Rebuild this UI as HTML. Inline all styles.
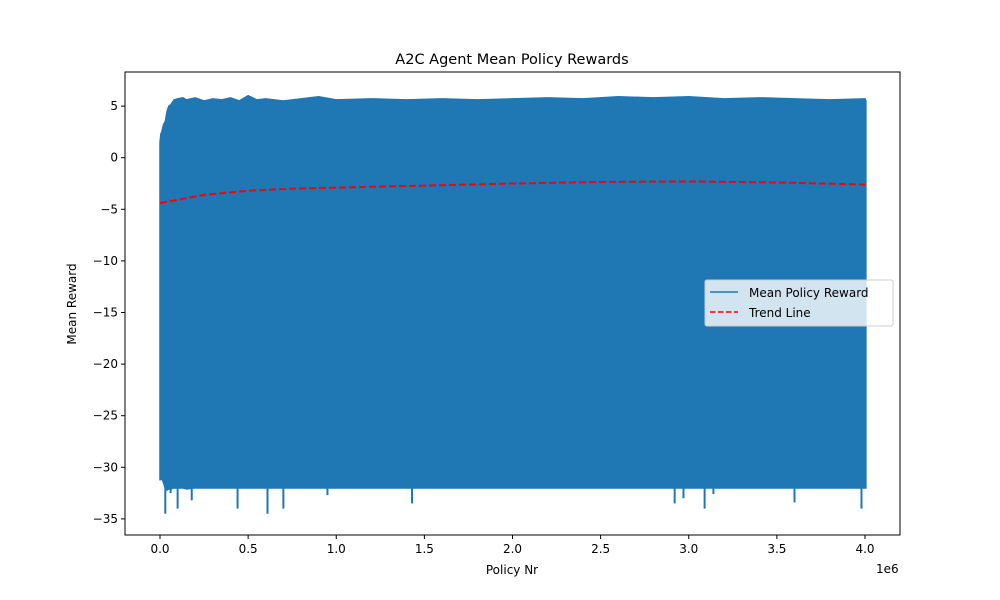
<!DOCTYPE html>
<html><head><meta charset="utf-8"><style>
body{margin:0;background:#fff;}
svg{display:block;font-family:"DejaVu Sans","Liberation Sans",sans-serif;}
</style></head><body>
<svg id="chart" width="1000" height="600">
<rect width="1000" height="600" fill="#fff"/>
<g id="plot"></g>
<g id="axes"></g>
</svg>
<script>
const xTicks=[0,0.5,1.0,1.5,2.0,2.5,3.0,3.5,4.0];
const xTickLabels=["0.0","0.5","1.0","1.5","2.0","2.5","3.0","3.5","4.0"];
const yTicks=[5,0,-5,-10,-15,-20,-25,-30,-35];
const yTickLabels=["5","0","−5","−10","−15","−20","−25","−30","−35"];
// envelope of the noisy reward series (x in 1e6)
const envX=[0,0.005,0.01,0.02,0.03,0.04,0.05,0.06,0.08,0.1,0.13,0.15,0.2,0.25,0.3,0.35,0.4,0.45,0.5,0.55,0.6,0.7,0.8,0.9,1.0,1.2,1.4,1.6,1.8,2.0,2.2,2.4,2.6,2.8,3.0,3.2,3.4,3.6,3.8,4.0,4.005];
const envTop=[1.5,2.3,2.5,3.2,3.5,4.5,5.0,5.1,5.6,5.7,5.8,5.6,5.8,5.5,5.7,5.6,5.8,5.5,6.0,5.6,5.7,5.5,5.7,5.9,5.6,5.7,5.6,5.7,5.6,5.7,5.8,5.7,5.9,5.8,5.9,5.7,5.8,5.7,5.6,5.7,5.5];
const envBottom=[-31.2,-31.2,-31.0,-31.5,-32.0,-32.2,-32.1,-32.1,-32.0,-32.0,-32.0,-32.1,-32.0,-32.0,-32.0,-32.0,-32.0,-32.0,-32.0,-32.0,-32.0,-32.0,-32.0,-32.0,-32.0,-32.0,-32.0,-32.0,-32.0,-32.0,-32.0,-32.0,-32.0,-32.0,-32.0,-32.0,-32.0,-32.0,-32.0,-32.0,-32.0];
const spikeX=[0.03,0.06,0.1,0.18,0.44,0.61,0.7,0.95,1.43,2.92,2.97,3.09,3.14,3.6,3.98];
const spikeY=[-34.5,-32.5,-34.0,-33.2,-34.0,-34.5,-34.0,-32.7,-33.5,-33.5,-33.0,-34.0,-32.6,-33.4,-34.0];
const trendX=[0,0.25,0.5,0.75,1.0,1.5,2.0,2.5,3.0,3.5,4.0];
const trendY=[-4.4,-3.6,-3.2,-3.0,-2.9,-2.7,-2.5,-2.35,-2.3,-2.4,-2.6];

const L=125,R=900,T=72,B=535;
const xs=v=>160+v*176.25;
const ys=v=>157.7-v*10.32;
const NS="http://www.w3.org/2000/svg";
function mk(tag,attrs,parent){const e=document.createElementNS(NS,tag);for(const k in attrs)e.setAttribute(k,attrs[k]);parent.appendChild(e);return e;}
const plot=document.getElementById('plot'),axes=document.getElementById('axes');

let pts=envX.map((x,i)=>xs(x)+","+ys(envTop[i]));
for(let i=envX.length-1;i>=0;i--)pts.push(xs(envX[i])+","+ys(envBottom[i]));
const poly=mk('polygon',{points:pts.join(" "),fill:"#1f77b4",stroke:"#1f77b4","stroke-width":1.5},plot);


spikeX.forEach((x,i)=>{
 const s=mk('line',{x1:xs(x),x2:xs(x),y1:ys(-31.8),y2:ys(spikeY[i]),stroke:"#1f77b4","stroke-width":2},plot);
 
 
});
const tr=mk('polyline',{points:trendX.map((x,i)=>xs(x)+","+ys(trendY[i])).join(" "),fill:"none",stroke:"#ff0000","stroke-width":2,"stroke-dasharray":"7,3"},plot);



const frame=mk('rect',{x:L,y:T,width:R-L,height:B-T,fill:"none",stroke:"#000","stroke-width":1},axes);


xTicks.forEach((v,i)=>{
 const x=xs(v);
 const t=mk('line',{x1:x,x2:x,y1:B,y2:B+4,stroke:"#000"},axes);
 
 
 const l=mk('text',{x:x,y:B+18,"text-anchor":"middle","font-size":12},axes);l.textContent=xTickLabels[i];
 
 
});
yTicks.forEach((v,i)=>{
 const y=ys(v);
 const t=mk('line',{x1:L-4,x2:L,y1:y,y2:y,stroke:"#000"},axes);
 
 
 const l=mk('text',{x:L-7,y:y+4,"text-anchor":"end","font-size":12},axes);l.textContent=yTickLabels[i];
 
 
});
</script>
<svg style="position:absolute;left:0;top:0" width="1000" height="600">
<text x="512" y="64" text-anchor="middle" font-size="14.5" font-family="DejaVu Sans,sans-serif">A2C Agent Mean Policy Rewards</text>
<text x="512" y="574" text-anchor="middle" font-size="12" font-family="DejaVu Sans,sans-serif">Policy Nr</text>
<text x="876" y="573" font-size="12" font-family="DejaVu Sans,sans-serif">1e6</text>
<text transform="translate(76,304) rotate(-90)" text-anchor="middle" font-size="12" font-family="DejaVu Sans,sans-serif">Mean Reward</text>
<g>
<rect x="705" y="280" width="188" height="46" rx="2" fill="#fff" fill-opacity="0.8" stroke="#ccc"/>
<line x1="710" x2="738" y1="292" y2="292" stroke="#1f77b4" stroke-width="1.5"/>
<text x="749" y="297" font-size="12" font-family="DejaVu Sans,sans-serif">Mean Policy Reward</text>
<line x1="710" x2="738" y1="312" y2="312" stroke="#ff0000" stroke-width="1.5" stroke-dasharray="5.5,2.5"/>
<text x="749" y="317" font-size="12" font-family="DejaVu Sans,sans-serif">Trend Line</text>
</g>
</svg>
</body></html>
